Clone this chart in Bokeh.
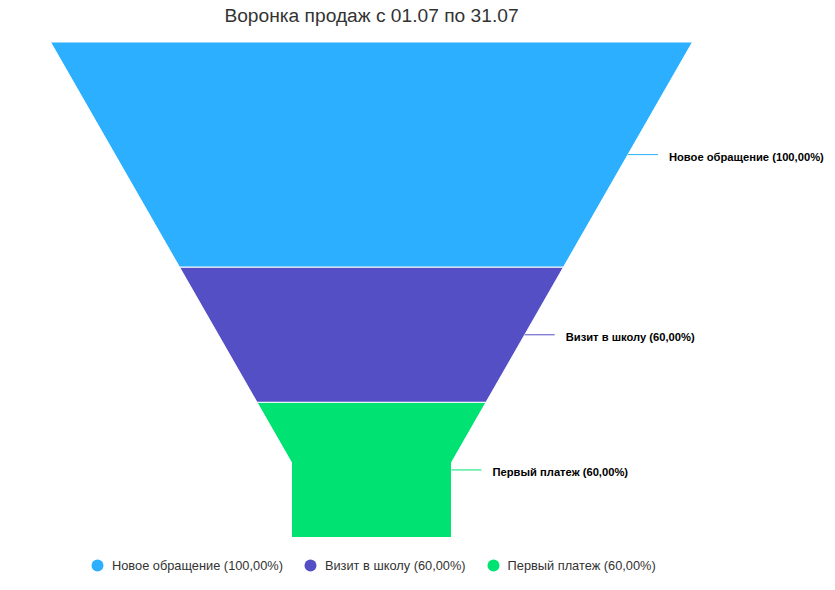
import math
from bokeh.plotting import figure
from bokeh.models import Range1d, ColumnDataSource, Label, Legend, LegendItem
from bokeh.core.properties import value
from bokeh.embed import file_html
from bokeh.resources import INLINE

# ---- data ----
stages = ["Новое обращение", "Визит в школу", "Первый платеж"]
values = [5, 3, 3]
percents = ["100,00%", "60,00%", "60,00%"]
colors = ["#2caffe", "#544fc5", "#00e272"]
title_text = "Воронка продаж с 01.07 по 31.07"

# ---- layout (pixel space of the page) ----
W, H = 827, 582
top_y, bottom_y = 41.5, 537.0
center_x = 371.0
top_w, neck_w = 642.0, 160.0
neck_y = 462.0
FONT = "Liberation Sans"

p = figure(width=W, height=H, output_backend="svg", toolbar_location=None,
           x_range=Range1d(0, W), y_range=Range1d(H, 0),
           min_border=0, outline_line_color=None)
p.axis.visible = False
p.grid.visible = False
p.background_fill_color = "white"
p.border_fill_color = "white"

def half_width(y):
    if y <= neck_y:
        t = (y - top_y) / (neck_y - top_y)
        return top_w / 2 - (top_w - neck_w) / 2 * t
    return neck_w / 2

total = sum(values)
unit = (bottom_y - top_y) / total
xs, ys = [], []
lab_x0, lab_x1, lab_tx, lab_y, lab_text = [], [], [], [], []
cum = 0
for name, v, pc in zip(stages, values, percents):
    y0 = top_y + cum * unit
    y1 = top_y + (cum + v) * unit
    cum += v
    pts_y = [y0] + ([neck_y] if y0 < neck_y < y1 else []) + [y1]
    right = [(center_x + half_width(y), y) for y in pts_y]
    left = [(center_x - half_width(y), y) for y in reversed(pts_y)]
    poly = right + left
    xs.append([pt[0] for pt in poly])
    ys.append([pt[1] for pt in poly])
    ym = (y0 + y1) / 2
    ex = center_x + half_width(ym)
    lab_x0.append(ex)
    lab_x1.append(ex + 30)
    lab_tx.append(ex + 41)
    lab_y.append(ym)
    lab_text.append(f"{name} ({pc})")

src = ColumnDataSource(dict(xs=xs, ys=ys, color=colors))
p.patches("xs", "ys", source=src, fill_color="color", line_color="white", line_width=1)

lsrc = ColumnDataSource(dict(x0=lab_x0, x1=lab_x1, tx=lab_tx, y=lab_y,
                             ty=[y + 2 for y in lab_y], text=lab_text, color=colors))
p.segment(x0="x0", y0="y", x1="x1", y1="y", source=lsrc, line_color="color", line_width=1)
p.text(x="tx", y="ty", text="text", source=lsrc, text_font=value(FONT),
       text_font_style="bold", text_font_size="11.2px", text_color="#000000",
       text_baseline="middle", text_align="left")

p.add_layout(Label(x=center_x, y=15, text=title_text, text_align="center",
                   text_baseline="middle", text_font=FONT, text_font_size="19.2px",
                   text_color="#333333"))

# legend via dummy renderers
items = []
for name, pc, c in zip(stages, percents, colors):
    r = p.scatter(x=[math.nan], y=[math.nan], marker="circle", size=12,
                  fill_color=c, line_color=None)
    items.append(LegendItem(label=f"{name} ({pc})", renderers=[r]))
legend = Legend(items=items, orientation="horizontal", location=(82, 2),
                glyph_width=30, glyph_height=30, label_standoff=-4, spacing=12,
                padding=0, margin=0, border_line_color=None, background_fill_alpha=0,
                label_text_font=FONT, label_text_font_size="12.8px",
                label_text_color="#333333")
p.add_layout(legend)

open("out.html", "w").write(file_html(p, INLINE))
